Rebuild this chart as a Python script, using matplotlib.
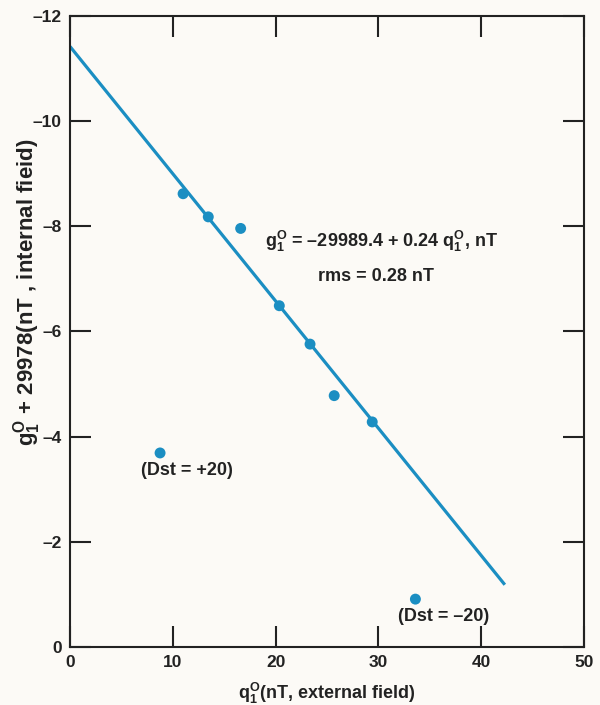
import matplotlib
matplotlib.use("Agg")
import matplotlib.pyplot as plt
import numpy as np

plt.rcParams['font.family'] = ['Liberation Sans', 'DejaVu Sans']
plt.rcParams['font.weight'] = 'bold'
plt.rcParams['mathtext.fontset'] = 'custom'
plt.rcParams['mathtext.rm'] = 'Liberation Sans:bold'
plt.rcParams['mathtext.it'] = 'Liberation Sans:bold'
plt.rcParams['mathtext.bf'] = 'Liberation Sans:bold'

# data
q_ext = [11.0, 13.45, 16.6, 20.36, 23.35, 25.7, 29.4]
g_int = [-8.62, -8.18, -7.96, -6.49, -5.76, -4.78, -4.28]
outlier_x = [8.76, 33.6]
outlier_y = [-3.69, -0.91]
outlier_labels = ['(Dst = +20)', '(Dst = \u201320)']
fit_intercept = -11.42
fit_slope = 0.242
fit_x = [0, 42.3]

xticks = [0, 10, 20, 30, 40, 50]
yticks = [0, -2, -4, -6, -8, -10, -12]

color = '#1b8ec2'
bg = '#fcfaf6'
tc = '#222222'

fig = plt.figure(figsize=(6, 7.05), dpi=100, facecolor=bg)
ax = fig.add_axes([0.1167, 0.0823, 0.8566, 0.8950])
ax.set_facecolor(bg)

fx = np.array(fit_x)
ax.plot(fx, fit_intercept + fit_slope * fx, color=color, lw=2.3, solid_capstyle='butt')
ax.scatter(q_ext, g_int, s=62, color=color, zorder=3, edgecolors='none')
ax.scatter(outlier_x, outlier_y, s=62, color=color, zorder=3, edgecolors='none')

ax.text(11.4, -3.36, outlier_labels[0], ha='center', va='center', fontsize=13, fontweight='bold', color=tc)
ax.text(36.3, -0.58, outlier_labels[1], ha='center', va='center', fontsize=13, fontweight='bold', color=tc)

ax.text(19.0, -7.71, r'$\mathrm{g_1^O}$ = ' + '\u201329989.4 + 0.24 ' + r'$\mathrm{q_1^O}$, nT',
        ha='left', va='center', fontsize=13, fontweight='bold', color=tc)
ax.text(29.8, -7.04, 'rms = 0.28 nT', ha='center', va='center', fontsize=13,
        fontweight='bold', color=tc)

ax.set_xlim(0, 50)
ax.set_ylim(0, -12)
ax.set_xticks(xticks)
ax.set_yticks(yticks)
ax.set_xticklabels([str(t) for t in xticks])
ax.set_yticklabels([str(t).replace('-', '\u2013') for t in yticks])

ax.tick_params(direction='in', length=15, width=1.5, labelsize=12.5, colors=tc,
               top=True, right=True, pad=6)
for s in ax.spines.values():
    s.set_linewidth(1.5)
    s.set_color(tc)

fig.text(327 / 600, 1 - 693 / 705, r'$\mathrm{q_1^O}$(nT, external field)', fontsize=13,
         fontweight='bold', color=tc, ha='center', va='center')
fig.text(27 / 600, 1 - 292 / 705, r'$\mathrm{g_1^O}$ + 29978(nT , internal fieid)', fontsize=16,
         fontweight='bold', color=tc, ha='center', va='center', rotation=90)

fig.savefig('out.png', dpi=100, facecolor=bg)
